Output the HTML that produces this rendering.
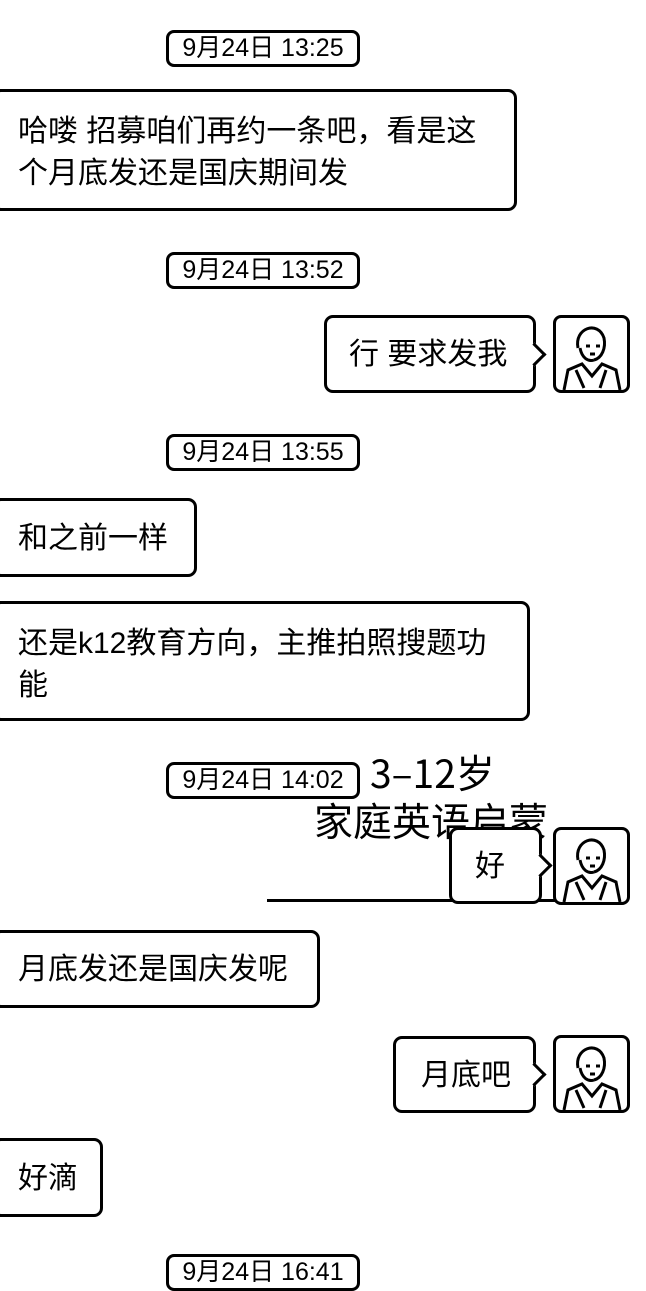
<!DOCTYPE html>
<html><head><meta charset="utf-8">
<style>
html,body{margin:0;padding:0;background:#fff;}
body{width:646px;height:1280px;position:relative;overflow:hidden;font-family:"Liberation Sans","Noto Sans CJK SC",sans-serif;color:#000;}
.ts{position:absolute;left:166px;width:188px;height:31px;border:3px solid #000;border-radius:8px;font-size:25px;line-height:31px;text-align:center;white-space:nowrap;}
.b{position:absolute;border:3px solid #000;border-radius:9px;font-size:30px;line-height:42px;box-sizing:border-box;background:#fff;white-space:nowrap;}
.l{left:-8px;padding-left:23px;}
.r{padding-left:22px;}
.tail{position:absolute;right:-10px;width:14px;height:14px;background:#fff;border-top:3px solid #000;border-right:3px solid #000;transform:rotate(45deg);}
.av{position:absolute;left:553px;width:77px;height:78px;border:3px solid #000;border-radius:8px;box-sizing:border-box;overflow:hidden;background:#fff;}
.hw{position:absolute;font-family:"WenQuanYi Zen Hei","Noto Sans CJK SC",sans-serif;font-size:39px;line-height:44px;}
</style></head><body>

<div class="ts" style="top:30px">9月24日 13:25</div>
<div class="b l" style="top:89px;width:525px;height:122px;padding-top:19px">哈喽 招募咱们再约一条吧，看是这<br>个月底发还是国庆期间发</div>

<div class="ts" style="top:252px">9月24日 13:52</div>
<div class="b r" style="left:324px;top:315px;width:212px;height:78px;line-height:74px">行 要求发我<div class="tail" style="top:28px"></div></div>
<div class="av" style="top:315px"><svg width="71" height="72" viewBox="0 0 71 72"><g fill="none" stroke="#000" stroke-width="3"><path d="M22 30 C18 10 42 2 48 20 C50 30 46 40 38 42"/><path d="M24 30 C26 40 32 44 38 42"/><path d="M8 72 L12 52 L26 46 L36 58 L46 46 L60 52 L64 72"/><path d="M20 52 L28 70 M50 52 L44 70"/><path d="M30 28 h4 M40 28 h4 M34 36 h5"/></g></svg></div>

<div class="ts" style="top:434px">9月24日 13:55</div>
<div class="b l" style="top:498px;width:205px;height:79px;line-height:75px">和之前一样</div>
<div class="b l" style="top:601px;width:538px;height:120px;padding-top:19px">还是k12教育方向，主推拍照搜题功<br>能</div>

<div class="ts" style="top:762px">9月24日 14:02</div>
<div class="hw" style="left:370px;top:750px">3–12岁</div>
<div class="hw" style="left:314px;top:798px">家庭英语启蒙</div>
<div style="position:absolute;left:267px;top:899px;width:290px;height:3px;background:#000"></div>
<div class="b r" style="left:449px;top:827px;width:93px;height:77px;line-height:73px;padding-left:23px">好<div class="tail" style="top:27px"></div></div>
<div class="av" style="top:827px"><svg width="71" height="72" viewBox="0 0 71 72"><g fill="none" stroke="#000" stroke-width="3"><path d="M22 30 C18 10 42 2 48 20 C50 30 46 40 38 42"/><path d="M24 30 C26 40 32 44 38 42"/><path d="M8 72 L12 52 L26 46 L36 58 L46 46 L60 52 L64 72"/><path d="M20 52 L28 70 M50 52 L44 70"/><path d="M30 28 h4 M40 28 h4 M34 36 h5"/></g></svg></div>

<div class="b l" style="top:930px;width:328px;height:78px;line-height:74px">月底发还是国庆发呢</div>

<div class="b r" style="left:393px;top:1036px;width:143px;height:77px;line-height:73px;padding-left:25px">月底吧<div class="tail" style="top:27px"></div></div>
<div class="av" style="top:1035px"><svg width="71" height="72" viewBox="0 0 71 72"><g fill="none" stroke="#000" stroke-width="3"><path d="M22 30 C18 10 42 2 48 20 C50 30 46 40 38 42"/><path d="M24 30 C26 40 32 44 38 42"/><path d="M8 72 L12 52 L26 46 L36 58 L46 46 L60 52 L64 72"/><path d="M20 52 L28 70 M50 52 L44 70"/><path d="M30 28 h4 M40 28 h4 M34 36 h5"/></g></svg></div>

<div class="b l" style="top:1138px;width:111px;height:79px;line-height:75px">好滴</div>

<div class="ts" style="top:1254px">9月24日 16:41</div>
</body></html>
